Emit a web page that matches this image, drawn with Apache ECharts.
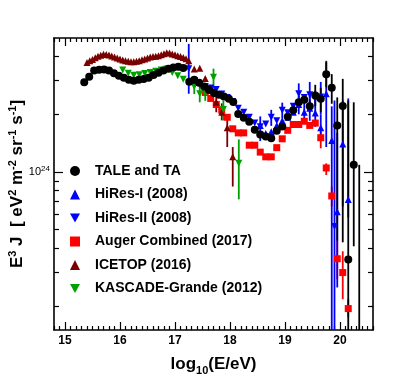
<!DOCTYPE html>
<html>
<head>
<meta charset="utf-8">
<script src="https://cdn.jsdelivr.net/npm/echarts@6/dist/echarts.min.js"></script>
<style>
  html, body { margin: 0; padding: 0; background: #fff; }
  #chart { width: 415px; height: 379px; }
</style>
</head>
<body>
<div id="chart"></div>
<script>
// data: [log10(E/eV), E^3 J in eV^2 m^-2 sr^-1 s^-1]; errors: [log10(E/eV), low, high]
const taleTA = [
  [15.35,2.94e24],[15.44,3.14e24],[15.53,3.38e24],[15.62,3.42e24],[15.71,3.43e24],[15.80,3.38e24],
  [15.89,3.27e24],[15.98,3.18e24],[16.07,3.10e24],[16.16,3.03e24],[16.25,2.99e24],[16.34,3.03e24],
  [16.43,3.06e24],[16.52,3.10e24],[16.61,3.21e24],[16.70,3.29e24],[16.79,3.38e24],[16.88,3.46e24],
  [16.97,3.51e24],[17.06,3.54e24],[17.15,3.49e24],
  [17.26,2.96e24],[17.35,3.03e24],[17.44,2.92e24],[17.53,2.79e24],[17.62,2.68e24],[17.71,2.58e24],
  [17.80,2.53e24],[17.89,2.48e24],[17.98,2.41e24],[18.06,2.32e24],[18.15,2.01e24],
  [18.25,1.92e24],[18.35,1.83e24],[18.45,1.66e24],[18.55,1.57e24],[18.65,1.53e24],[18.75,1.50e24],
  [18.85,1.64e24],[18.95,1.73e24],[19.05,1.94e24],[19.15,2.10e24],[19.25,2.31e24],[19.35,2.38e24],
  [19.45,2.20e24],[19.55,2.51e24],[19.65,2.41e24],[19.75,3.24e24],[19.85,2.75e24],[19.95,1.75e24],
  [20.05,2.21e24],[20.15,0.35e24],[20.25,1.09e24]
];
const taleTAErr = [
  [19.45,2.05e24,2.36e24],[19.55,2.20e24,2.85e24],[19.65,2.05e24,2.75e24],[19.75,2.77e24,3.75e24],
  [19.85,2.27e24,3.24e24],[19.95,0.44e24,2.45e24],[20.05,0.43e24,3.06e24],[20.15,0.15e24,2.36e24],
  [20.25,0.41e24,2.31e24],[20.35,0.15e24,1.09e24]
];

const hiresI = [
  [18.55,1.75e24],[18.65,1.59e24],[18.75,1.62e24],[18.85,1.75e24],[18.95,1.85e24],[19.05,1.93e24],
  [19.15,2.05e24],[19.25,2.25e24],[19.35,2.05e24],[19.45,2.15e24],[19.55,2.03e24],[19.65,1.70e24],
  [19.75,2.56e24],[19.85,1.46e24],[19.95,0.62e24],[20.05,1.40e24],[20.15,0.72e24]
];
const hiresIErr = [
  [18.55,1.45e24,1.95e24],[19.25,2.00e24,2.50e24],[19.35,1.85e24,2.30e24],[19.45,1.85e24,2.50e24],
  [19.55,1.72e24,2.66e24],[19.65,1.45e24,2.00e24],[19.75,1.35e24,3.80e24],[19.85,0.15e24,2.20e24],
  [19.95,0.25e24,1.60e24],[20.05,0.66e24,2.36e24],[20.15,0.58e24,2.42e24]
];

const hiresII = [
  [17.25,3.46e24],[17.35,3.00e24],[17.45,2.86e24],[17.55,2.79e24],[17.65,2.74e24],[17.75,2.69e24],
  [17.85,2.55e24],[17.95,2.45e24],[18.05,2.33e24],[18.15,2.15e24],[18.25,2.05e24],[18.35,1.93e24],
  [18.45,1.80e24],[18.55,1.72e24],[18.65,1.78e24],[18.75,1.93e24],[18.85,1.85e24],[18.95,2.10e24],
  [19.05,2.04e24],[19.15,2.20e24],[19.25,2.56e24],[19.35,2.45e24],[19.45,2.53e24],[19.55,2.40e24],
  [19.65,2.46e24],[19.90,0.52e24]
];
const hiresIIErr = [
  [17.25,2.56e24,4.66e24],[18.75,1.74e24,2.11e24],[18.95,1.90e24,2.30e24],[19.25,2.20e24,2.90e24],
  [19.45,2.10e24,2.95e24],[19.65,2.00e24,2.95e24],[19.90,0.15e24,2.36e24]
];

const auger = [
  [17.55,2.60e24],[17.65,2.42e24],[17.75,2.25e24],[17.85,2.10e24],[17.95,1.93e24],[18.05,1.68e24],
  [18.15,1.60e24],[18.25,1.60e24],[18.35,1.38e24],[18.45,1.38e24],[18.55,1.27e24],[18.65,1.20e24],
  [18.75,1.20e24],[18.85,1.34e24],[18.95,1.49e24],[19.05,1.65e24],[19.15,1.77e24],[19.25,1.77e24],
  [19.35,1.84e24],[19.45,1.75e24],[19.55,1.80e24],[19.65,1.51e24],[19.75,1.05e24],[19.85,0.75e24],
  [19.95,0.353e24],[20.05,0.299e24],[20.15,0.194e24]
];
const augerErr = [
  [19.65,1.33e24,1.62e24],[19.75,0.965e24,1.11e24],[19.85,0.661e24,0.839e24],
  [19.95,0.276e24,0.444e24],[20.05,0.217e24,0.386e24],[20.15,0.175e24,0.217e24]
];

const icetop = [
  [15.40,3.73e24],[15.45,3.80e24],[15.50,3.86e24],[15.55,3.94e24],[15.60,4.01e24],[15.65,4.07e24],
  [15.70,4.11e24],[15.75,4.10e24],[15.80,4.08e24],[15.85,4.03e24],[15.90,3.98e24],[15.95,3.93e24],
  [16.00,3.89e24],[16.05,3.84e24],[16.10,3.81e24],[16.15,3.78e24],[16.20,3.76e24],[16.25,3.76e24],
  [16.30,3.78e24],[16.35,3.81e24],[16.40,3.85e24],[16.45,3.89e24],[16.50,3.93e24],[16.55,3.98e24],
  [16.60,4.00e24],[16.65,4.02e24],[16.70,4.04e24],[16.75,4.09e24],[16.80,4.14e24],[16.85,4.19e24],
  [16.90,4.17e24],[16.95,4.12e24],[17.00,4.09e24],[17.05,4.04e24],[17.10,4.00e24],[17.15,3.96e24],
  [17.20,3.90e24],[17.25,3.80e24],
  [17.35,3.45e24],[17.45,3.48e24],[17.55,3.07e24],[17.65,2.74e24],[17.75,2.31e24],[17.85,2.05e24],
  [17.95,1.70e24],[18.05,1.20e24]
];
const icetopErr = [
  [17.75,2.05e24,2.55e24],[17.85,1.86e24,2.28e24],[17.95,1.35e24,1.90e24],[18.05,0.84e24,1.35e24]
];

const kascade = [
  [16.05,3.40e24],[16.15,3.27e24],[16.25,3.20e24],[16.35,3.22e24],[16.45,3.26e24],[16.55,3.30e24],
  [16.65,3.35e24],[16.75,3.40e24],[16.85,3.45e24],[16.95,3.30e24],[17.05,3.18e24],[17.15,3.05e24],
  [17.25,2.92e24],[17.35,2.79e24],[17.45,2.56e24],[17.55,2.56e24],[17.70,3.12e24],[17.88,2.12e24],
  [18.16,1.11e24]
];
const kascadeErr = [
  [17.35,2.55e24,3.00e24],[17.45,2.31e24,2.82e24],[17.55,2.35e24,2.78e24],[17.70,2.66e24,3.46e24],
  [17.88,1.86e24,2.36e24],[18.16,0.72e24,1.48e24]
];

const legendNames = ['TALE and TA', 'HiRes-I (2008)', 'HiRes-II (2008)',
  'Auger Combined (2017)', 'ICETOP (2016)', 'KASCADE-Grande (2012)'];

// axis ticks
const xTickLabels = [15, 16, 17, 18, 19, 20];
const yMajorTicks = [1e24];
const yMinorTicks = [2e23, 3e23, 4e23, 5e23, 6e23, 7e23, 8e23, 9e23, 2e24, 3e24, 4e24];
const X_MIN = 14.8, X_MAX = 20.6, Y_MIN = 1.5e23, Y_MAX = 5e24;

const FONT = 'Liberation Sans';
const DOWN = 'path://M0,0L10,0L5,9Z';
const LOG_MIN = Math.log10(Y_MIN), LOG_MAX = Math.log10(Y_MAX);
let xMinor = [];
for (let i = Math.round(X_MIN * 10); i <= Math.round(X_MAX * 10); i++) {
  if (i % 10 !== 0) xMinor.push(i / 10);
}
let yMinorLog = yMinorTicks.map(v => Math.log10(v));
let yMajorLog = yMajorTicks.map(v => Math.log10(v));

let tickLine = { color: '#000', width: 1.2 };
let frameLine = { show: true, onZero: false, lineStyle: { color: '#000', width: 1.6 } };

function xTicks(pos, vals, len, line, label) {
  return {
    type: 'value', position: pos, min: X_MIN, max: X_MAX,
    axisLine: line ? frameLine : { show: false },
    axisTick: { show: true, inside: true, length: len, customValues: vals, lineStyle: tickLine },
    axisLabel: label ? {
      show: true, customValues: vals, margin: 5, color: '#000',
      fontSize: 12, fontWeight: 'bold', fontFamily: FONT
    } : { show: false },
    splitLine: { show: false }
  };
}
function yTicks(pos, vals, len, line) {
  return {
    type: 'value', position: pos, min: LOG_MIN, max: LOG_MAX,
    axisLine: line ? frameLine : { show: false },
    axisTick: { show: true, inside: true, length: len, customValues: vals, lineStyle: tickLine },
    axisLabel: { show: false },
    splitLine: { show: false }
  };
}

function errSeries(data, color, z) {
  return {
    type: 'custom', data: data, z: z, silent: true, clip: true,
    renderItem: function (params, api) {
      let a = api.coord([api.value(0), api.value(1)]);
      let b = api.coord([api.value(0), api.value(2)]);
      return {
        type: 'line',
        shape: { x1: a[0], y1: a[1], x2: b[0], y2: b[1] },
        style: { stroke: color, lineWidth: 1.8 }
      };
    }
  };
}
function pts(name, data, color, symbol, size, rotate, z) {
  return {
    type: 'scatter', name: name, data: data, symbol: symbol, symbolSize: size,
    symbolRotate: rotate, z: z, silent: true,
    itemStyle: { color: color, opacity: 1 }
  };
}

let xMain = xTicks('bottom', xTickLabels, 8, true, true);
xMain.name = '{a|log}{b|10}{a|(E/eV)}';
xMain.nameLocation = 'middle';
xMain.nameGap = 23;
xMain.nameTextStyle = {
  rich: {
    a: { fontSize: 17, fontWeight: 'bold', fontFamily: FONT, color: '#000' },
    b: { fontSize: 11, fontWeight: 'bold', fontFamily: FONT, color: '#000', padding: [12, 0, 0, 0] }
  }
};

let yMain = {
  type: 'log', logBase: 10, position: 'left', min: Y_MIN, max: Y_MAX,
  axisLine: frameLine,
  axisTick: { show: false }, minorTick: { show: false },
  axisLabel: { show: false },
  splitLine: { show: false },
  name: '{a|E}{s|3}{a| J  [ eV}{s|2}{a| m}{s|-2}{a| sr}{s|-1}{a| s}{s|-1}{a|]}',
  nameLocation: 'middle', nameRotate: 90, nameGap: 26,
  nameTextStyle: {
    rich: {
      a: { fontSize: 17, fontWeight: 'bold', fontFamily: FONT, color: '#000' },
      s: { fontSize: 11, fontWeight: 'bold', fontFamily: FONT, color: '#000', padding: [0, 0, 10, 0] }
    }
  }
};
let yLabelAxis = yTicks('left', yMajorLog, 9, false);
yLabelAxis.axisLabel = {
  show: true, customValues: yMajorLog, margin: 4,
  formatter: function () { return '{a|10}{s|24}'; },
  rich: {
    a: { fontSize: 11, fontFamily: FONT, color: '#000' },
    s: { fontSize: 8, fontFamily: FONT, color: '#000', padding: [0, 0, 7, 0] }
  }
};

let legendData = legendNames.map(function (n) {
  return (n === 'HiRes-II (2008)' || n === 'KASCADE-Grande (2012)') ? { name: n, icon: DOWN } : { name: n };
});

let chart = echarts.init(document.getElementById('chart'), null, { renderer: 'canvas' });
chart.setOption({
  animation: false,
  backgroundColor: '#fff',
  grid: { left: 54, top: 38, right: 42, bottom: 49, containLabel: false, outerBoundsMode: 'none' },
  legend: {
    data: legendData, orient: 'vertical', left: 65, top: 159,
    itemWidth: 10, itemHeight: 10, itemGap: 9.5, selectedMode: false,
    textStyle: { fontSize: 14, fontWeight: 'bold', fontFamily: FONT, color: '#000', padding: [0, 0, 0, 10] }
  },
  xAxis: [
    xMain,
    xTicks('bottom', xMinor, 4, false, false),
    xTicks('top', xTickLabels, 8, true, false),
    xTicks('top', xMinor, 4, false, false)
  ],
  yAxis: [
    yMain,
    yTicks('left', yMinorLog, 5, false),
    yLabelAxis,
    yTicks('right', yMinorLog, 5, true),
    yTicks('right', yMajorLog, 9, false)
  ],
  series: [
    errSeries(augerErr, '#ff0000', 1),
    errSeries(icetopErr, '#7a0000', 1),
    errSeries(kascadeErr, '#00a000', 1),
    errSeries(hiresIErr, '#0000ff', 2),
    errSeries(hiresIIErr, '#0000ff', 2),
    errSeries(taleTAErr, '#000000', 2),
    pts('Auger Combined (2017)', auger, '#ff0000', 'rect', 7, 0, 3),
    pts('ICETOP (2016)', icetop, '#7a0000', 'triangle', 7, 0, 3),
    pts('KASCADE-Grande (2012)', kascade, '#00a000', 'triangle', 7, 180, 3),
    pts('HiRes-I (2008)', hiresI, '#0000ff', 'triangle', 7, 0, 4),
    pts('HiRes-II (2008)', hiresII, '#0000ff', 'triangle', 7, 180, 4),
    pts('TALE and TA', taleTA, '#000000', 'circle', 8, 0, 5)
  ]
});
</script>
</body>
</html>
